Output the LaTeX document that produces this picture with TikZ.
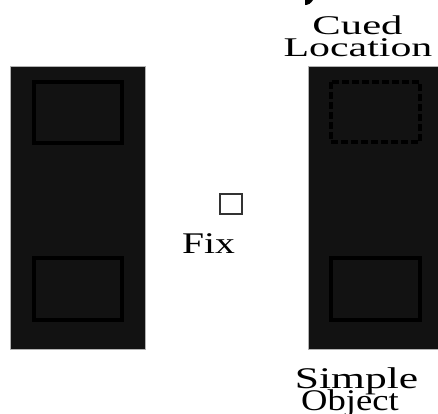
\documentclass[tikz,border=0pt]{standalone}
\usepackage{fontspec}
\setmainfont{Liberation Serif}
\usepackage{graphicx}
\definecolor{panelgray}{HTML}{121212}
\definecolor{fixgray}{HTML}{333333}
\begin{document}
\begin{tikzpicture}[x=1pt,y=-1pt,
  panel/.style={fill=panelgray,draw=gray!60,line width=0.6pt},
  slot/.style={draw=black,line width=4pt},
  cueslot/.style={slot,dash pattern=on 7pt off 3pt},
  fixmark/.style={draw=fixgray,fill=white,line width=1.4pt},
  lbl/.style={inner sep=0pt,anchor=base}]
\useasboundingbox (0,0) rectangle (438,413);
\begin{scope}
\clip (0,0) rectangle (438,413);
% tail of a glyph cut off by the top edge
\fill[black] (305,0) -- (313,0) .. controls (311,3) and (309,5) .. (305,5) -- cycle;
% left display panel with its two placeholder frames
\path[panel] (10,66) rectangle (145,349);
\path[slot] (34,82) rectangle (122,143);
\path[slot] (34,258) rectangle (122,320);
% right display panel: cued frame (dashed) and object frame
\path[panel] (308,66) rectangle (443,349);
\path[cueslot] (331,82) rectangle (420,142);
\path[slot] (331,258) rectangle (420,320);
% fixation square
\path[fixmark] (220,194) rectangle (242,214);
\end{scope}
% labels
\node[lbl,font=\fontsize{27}{27}\selectfont] (cueA) at (357.5,34) {\scalebox{1.58}[1]{Cued}};
\node[lbl,font=\fontsize{27}{27}\selectfont] (cueB) at (358,56) {\scalebox{1.55}[1]{Location}};
\node[lbl,font=\fontsize{30}{30}\selectfont] (fix) at (208.5,253) {\scalebox{1.32}[1]{Fix}};
\node[lbl,font=\fontsize{30}{30}\selectfont] (objA) at (356.5,388) {\scalebox{1.45}[1]{Simple}};
\node[lbl,font=\fontsize{30}{30}\selectfont] (objB) at (350,410) {\scalebox{1.22}[1]{Object}};
\end{tikzpicture}
\end{document}
